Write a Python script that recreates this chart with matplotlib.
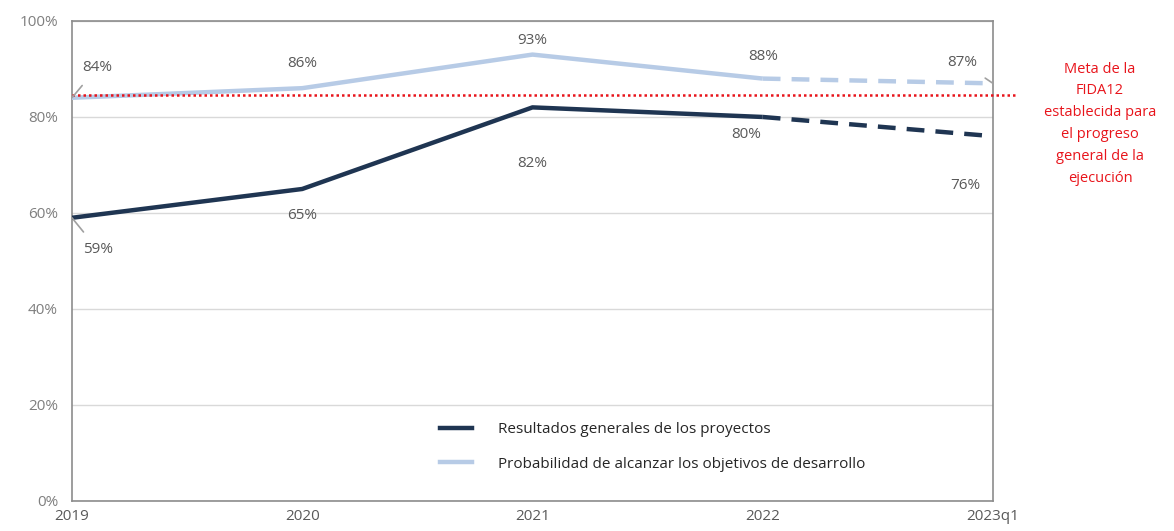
import matplotlib
matplotlib.use("Agg")
import matplotlib.pyplot as plt
from matplotlib.lines import Line2D

# data
periods = ["2019", "2020", "2021", "2022", "2023q1"]
resultados = [0.59, 0.65, 0.82, 0.80, 0.76]
probabilidad = [0.84, 0.86, 0.93, 0.88, 0.87]
meta = 0.845
yticks = [0, 0.2, 0.4, 0.6, 0.8, 1.0]
series_names = ["Resultados generales de los proyectos",
                "Probabilidad de alcanzar los objetivos de desarrollo"]

# label offsets in pixels (dx, dy) and whether a leader line is drawn
res_offsets = [(26, -32, True), (0, -27, False), (0, -56, False), (-17, -18, False), (-28, -49, False)]
prob_offsets = [(25, 30, True), (0, 25, False), (0, 14, False), (0, 22, False), (-31, 21, True)]

DARK = "#1f3552"
LIGHT = "#b7cbe6"
RED = "#e8141b"
GREY = "#7f7f7f"

plt.rcParams["font.family"] = ["Open Sans", "DejaVu Sans"]

fig = plt.figure(figsize=(11.74, 5.31), dpi=100)
ax = fig.add_axes([0.0613, 0.0565, 0.7845, 0.904])

x = list(range(len(periods)))

# solid up to 2022, dashed for the last step
ax.plot(x[:4], probabilidad[:4], color=LIGHT, lw=3.2, solid_capstyle="butt", zorder=3)
ax.plot(x[3:], probabilidad[3:], color=LIGHT, lw=3.2, ls=(0, (4, 2.5)), zorder=3)
ax.plot(x[:4], resultados[:4], color=DARK, lw=3.2, solid_capstyle="butt", zorder=4)
ax.plot(x[3:], resultados[3:], color=DARK, lw=3.2, ls=(0, (4, 2.5)), zorder=4)

ax.axhline(meta, xmin=0, xmax=1.024, color=RED, lw=1.8, ls=(0, (1, 1.2)),
           clip_on=False, zorder=5)

px = 0.72  # points per pixel at dpi 100
for xs, ys, offs in [(x, resultados, res_offsets), (x, probabilidad, prob_offsets)]:
    for xi, yi, (dx, dy, leader) in zip(xs, ys, offs):
        props = dict(arrowstyle="-", color="#a0a0a0", lw=1.2, shrinkA=7, shrinkB=0) if leader else None
        ax.annotate(f"{yi:.0%}", xy=(xi, yi), xytext=(dx * px, dy * px),
                    textcoords="offset points", ha="center", va="center",
                    fontsize=11, color="#595959", arrowprops=props,
                    annotation_clip=False, zorder=6)

ax.set_xlim(0, len(periods) - 1)
ax.set_ylim(0, 1)
ax.set_xticks(x)
ax.set_xticklabels(periods)
ax.set_yticks(yticks)
ax.set_yticklabels([f"{t:.0%}" for t in yticks])
ax.tick_params(length=0, labelsize=11, colors=GREY, pad=10)
ax.tick_params(axis="x", pad=6)
for lbl in ax.get_xticklabels():
    lbl.set_color("#595959")
ax.grid(axis="y", color="#d9d9d9", lw=1)
ax.set_axisbelow(True)
for s in ax.spines.values():
    s.set_color("#8c8c8c")
    s.set_linewidth(1.2)

handles = [Line2D([], [], color=DARK, lw=3.2), Line2D([], [], color=LIGHT, lw=3.2)]
ax.legend(handles, series_names, loc="center left", bbox_to_anchor=(0.3996, 0.1125),
          frameon=False, fontsize=11, handlelength=2.1, labelspacing=1.25,
          handletextpad=1.7, borderpad=0, borderaxespad=0, labelcolor="#262626")

fig.text(0.937, 0.884, "Meta de la\nFIDA12\nestablecida para\nel progreso\ngeneral de la\nejecución",
         ha="center", va="top", color=RED, fontsize=10.5, linespacing=1.62)

fig.savefig("out.png", dpi=100)
